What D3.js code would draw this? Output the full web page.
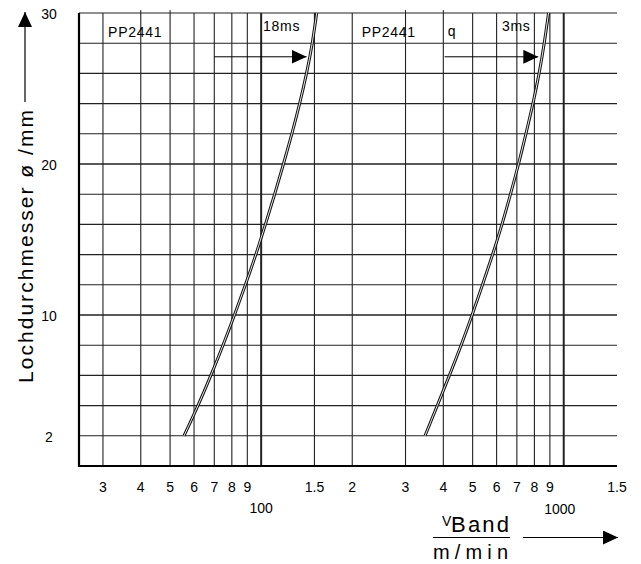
<!DOCTYPE html>
<html>
<head>
<meta charset="utf-8">
<script src="https://cdn.jsdelivr.net/npm/d3@7"></script>
<style>
  body { margin: 0; background: #fff; }
  text { font-family: "Liberation Sans", Arial, sans-serif; fill: #000; }
</style>
</head>
<body>
<div id="chart"></div>
<script>
// hole diameter (mm) along the curves
var diam = [2, 4, 6, 8, 10, 12, 14, 16, 18, 20, 22, 24, 26, 28, 30];
// band speed (m/min) for 18ms curve and 3ms curve
var speed18 = [55.6, 61.8, 68.2, 74.8, 81.6, 88.7, 96.0, 103.3, 110.8, 118.5, 126.3, 134.0, 141.2, 147.5, 152.6];
var speed3 = [348, 382, 419, 458, 498, 539, 582, 625, 667, 709, 750, 791, 829, 862, 891];

var xGrid = [30, 40, 50, 60, 70, 80, 90, 100, 150, 200, 300, 400, 500, 600, 700, 800, 900, 1000];
var xTickVals = [30, 40, 50, 60, 70, 80, 90, 150, 200, 300, 400, 500, 600, 700, 800, 900, 1500];
var xTickText = ['3', '4', '5', '6', '7', '8', '9', '1.5', '2', '3', '4', '5', '6', '7', '8', '9', '1.5'];
var yGrid = d3.range(2, 31, 2);
var yTickVals = [30, 20, 10, 2];

var svg = d3.select('#chart').append('svg')
  .attr('width', 641)
  .attr('height', 564);

var x = d3.scaleLog().domain([25, 1500]).range([79, 617]);
var y = d3.scaleLinear().domain([0, 30]).range([466, 13]);

// arrow head
svg.append('defs').append('marker')
  .attr('id', 'ah')
  .attr('viewBox', '0 0 15 14')
  .attr('refX', 15).attr('refY', 7)
  .attr('markerWidth', 15).attr('markerHeight', 14)
  .attr('markerUnits', 'userSpaceOnUse')
  .attr('orient', 'auto')
  .append('path').attr('d', 'M0,0 L15,7 L0,14 Z').attr('fill', '#000');

// grid
svg.selectAll('line.vg').data(xGrid).enter().append('line')
  .attr('class', 'vg')
  .attr('x1', function (d) { return x(d); })
  .attr('x2', function (d) { return x(d); })
  .attr('y1', y(30)).attr('y2', y(0))
  .attr('stroke', '#222')
  .attr('stroke-width', function (d) { return (d === 100 || d === 1000) ? 2 : 1.1; });

svg.selectAll('line.hg').data(yGrid).enter().append('line')
  .attr('class', 'hg')
  .attr('x1', x(25)).attr('x2', x(1500))
  .attr('y1', function (d) { return y(d); })
  .attr('y2', function (d) { return y(d); })
  .attr('stroke', '#222')
  .attr('stroke-width', function (d) { return (d === 10 || d === 20) ? 1.6 : 1.1; });

// small stubs on top edge
svg.selectAll('line.stub').data([40, 50, 300, 400]).enter().append('line')
  .attr('x1', function (d) { return x(d); })
  .attr('x2', function (d) { return x(d); })
  .attr('y1', y(30) - 3).attr('y2', y(30))
  .attr('stroke', '#222').attr('stroke-width', 1);

// axes frame
svg.append('line').attr('x1', x(25)).attr('x2', x(25)).attr('y1', y(30)).attr('y2', y(0) + 1)
  .attr('stroke', '#000').attr('stroke-width', 2.2);
svg.append('line').attr('x1', x(25) - 1).attr('x2', x(1500)).attr('y1', y(0)).attr('y2', y(0))
  .attr('stroke', '#000').attr('stroke-width', 2.2);

// curves, drawn as double lines
var line = d3.line().curve(d3.curveNatural);
[speed18, speed3].forEach(function (s) {
  var pts = diam.map(function (d, i) { return [x(s[i]), y(d)]; });
  svg.append('path').attr('d', line(pts)).attr('fill', 'none')
    .attr('stroke', '#111').attr('stroke-width', 3);
  svg.append('path').attr('d', line(pts)).attr('fill', 'none')
    .attr('stroke', '#fff').attr('stroke-width', 0.9);
});

// arrows in plot
[[70, 141.3], [404, 824]].forEach(function (a) {
  svg.append('line')
    .attr('x1', x(a[0])).attr('x2', x(a[1]))
    .attr('y1', y(27.1)).attr('y2', y(27.1))
    .attr('stroke', '#000').attr('stroke-width', 1)
    .attr('marker-end', 'url(#ah)');
});

// annotations
var notes = [
  ['PP2441', 31.2, 28.4],
  ['18ms', 101.5, 28.8],
  ['PP2441', 215, 28.4],
  ['q', 414, 28.5],
  ['3ms', 625, 28.8]
];
svg.selectAll('text.note').data(notes).enter().append('text')
  .attr('x', function (d) { return x(d[1]); })
  .attr('y', function (d) { return y(d[2]); })
  .attr('font-size', 14)
  .attr('letter-spacing', 0.7)
  .text(function (d) { return d[0]; });

// x tick labels
svg.selectAll('text.xt').data(xTickVals).enter().append('text')
  .attr('x', function (d) { return x(d); })
  .attr('y', 492)
  .attr('text-anchor', 'middle')
  .attr('font-size', 14)
  .text(function (d, i) { return xTickText[i]; });

svg.append('text').attr('x', x(100)).attr('y', 513)
  .attr('text-anchor', 'middle').attr('font-size', 14).text('100');
svg.append('text').attr('x', x(970)).attr('y', 514)
  .attr('text-anchor', 'middle').attr('font-size', 14).text('1000');

// y tick labels
svg.selectAll('text.yt').data(yTickVals).enter().append('text')
  .attr('x', 49)
  .attr('y', function (d) { return y(d) + 6; })
  .attr('text-anchor', 'middle')
  .attr('font-size', 14)
  .text(function (d) { return d; });

// y title with arrow
svg.append('text')
  .attr('transform', 'translate(33,383) rotate(-90)')
  .attr('font-size', 21)
  .attr('textLength', 273)
  .attr('lengthAdjust', 'spacing')
  .text('Lochdurchmesser ø /mm');
svg.append('line').attr('x1', 25).attr('x2', 25).attr('y1', 102).attr('y2', 12)
  .attr('stroke', '#000').attr('stroke-width', 1.2)
  .attr('marker-end', 'url(#ah)');

// x title fraction with arrow
svg.append('text').attr('x', 442).attr('y', 526).attr('font-size', 14).text('V');
svg.append('text').attr('x', 451).attr('y', 532).attr('font-size', 22)
  .attr('textLength', 58).attr('lengthAdjust', 'spacing').text('Band');
svg.append('line').attr('x1', 433).attr('x2', 510).attr('y1', 537.5).attr('y2', 537.5)
  .attr('stroke', '#000').attr('stroke-width', 1);
svg.append('text').attr('x', 433).attr('y', 559).attr('font-size', 20)
  .attr('textLength', 75).attr('lengthAdjust', 'spacing').text('m/min');
svg.append('line').attr('x1', 523).attr('x2', 618).attr('y1', 537.5).attr('y2', 537.5)
  .attr('stroke', '#000').attr('stroke-width', 1.2)
  .attr('marker-end', 'url(#ah)');
</script>
</body>
</html>
